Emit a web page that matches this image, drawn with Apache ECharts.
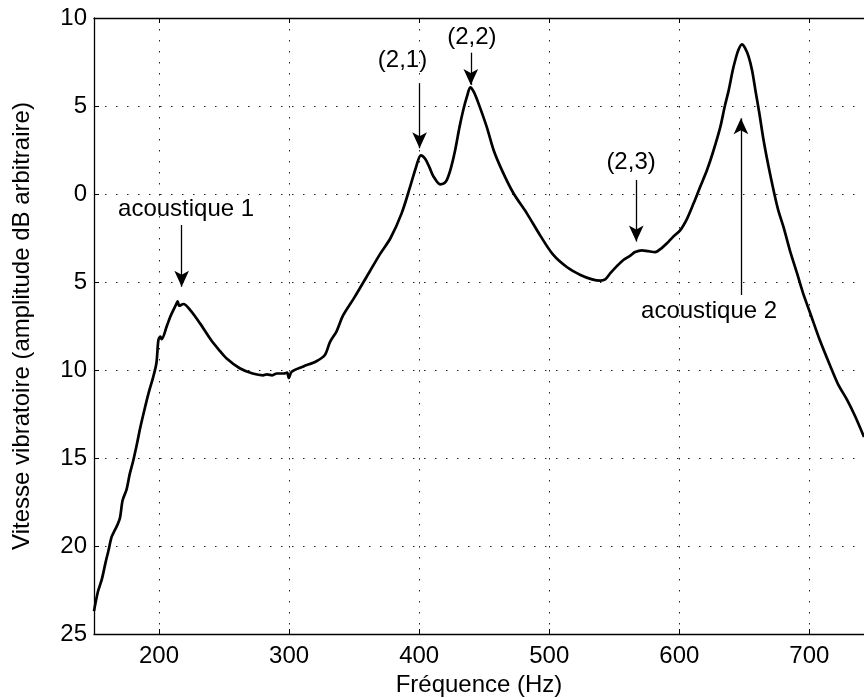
<!DOCTYPE html>
<html><head><meta charset="utf-8">
<script src="https://cdn.jsdelivr.net/npm/echarts@6/dist/echarts.min.js"></script>
<style>html,body{margin:0;padding:0;background:#fff}#c{width:864px;height:698px}</style>
</head><body><div id="c"></div>
<script>
// Frequency (Hz)
const freq = [150,153,156,159,161,163.5,166,168,170,172,175,177.5,180,183,185.5,188,192,195.5,198,199.5,201,202,206,208.5,211,213,214.3,215.6,218.7,224,231.5,240,246,252,262,272,280,283,287,290.5,296,298.5,299.7,302,311,321,327.5,331.5,336.5,341.5,350,362,370,378,386.5,393,397.7,401.3,404.6,408,411,416.2,419,421.3,424.5,427.7,431,434,437,439.3,442,445.6,452,457.2,463.6,472.5,482.8,493,503,513.5,524,533,539.2,543,547,552,557,562.3,566,571.3,576,581.5,586,590.5,595,600.8,606,611,616,621.3,626,631.5,635,638,641,643,645.5,648.2,650.5,653.3,656,658.5,661.5,664.8,668.5,672.5,676,680.2,685,690.5,695,700.8,708,716.2,722,729,735,742];
// Vitesse vibratoire (dB)
const level = [-23.7,-22.6,-21.9,-20.9,-20.3,-19.5,-19.1,-18.8,-18.4,-17.4,-16.8,-15.9,-15.2,-14.2,-13.3,-12.5,-11.3,-10.4,-9.6,-8.3,-8.1,-8.25,-7.5,-7.0,-6.6,-6.3,-6.1,-6.35,-6.25,-6.6,-7.35,-8.3,-8.85,-9.35,-9.9,-10.2,-10.3,-10.25,-10.3,-10.2,-10.2,-10.15,-10.45,-10.1,-9.8,-9.5,-9.15,-8.4,-7.8,-6.9,-5.9,-4.4,-3.4,-2.5,-1.1,0.4,1.55,2.2,2.0,1.5,1.0,0.55,0.6,0.8,1.5,2.5,3.8,4.8,5.6,6.06,5.8,5.15,3.8,2.5,1.36,0.04,-1.1,-2.35,-3.45,-4.15,-4.6,-4.85,-4.92,-4.85,-4.5,-4.1,-3.75,-3.5,-3.3,-3.2,-3.25,-3.3,-3.1,-2.8,-2.45,-2.05,-1.4,-0.53,0.4,1.36,2.4,3.8,5.0,5.9,7.0,7.6,8.2,8.5,8.3,7.8,7.0,5.9,4.6,3.05,1.6,0.2,-0.9,-1.9,-3.2,-4.5,-5.6,-6.8,-8.3,-9.8,-10.8,-11.7,-12.6,-13.8];
const xTicks = [200,300,400,500,600,700];
// Annotations
const annotTexts = ['acoustique 1','(2,1)','(2,2)','(2,3)','acoustique 2'];
const annotTextX = [220.8,387.2,440.5,562.9,622.9];
const annotTextY = [-0.85,7.6,8.9,1.79,-6.69];
const arrowX = [217.4,400.3,439.7,566.9,647.4];
const arrowFromY = [-1.76,6.3,8.03,0.8,-5.74];
const arrowToY = [-5.27,2.6,6.2,-2.7,4.3];

const FONT = 'Liberation Sans, Arial, Helvetica, sans-serif';
const FS = 24;
const chart = echarts.init(document.getElementById('c'), null, {renderer:'canvas'});
const dotted = {type:[1.5,9.5], color:'#222', width:1};

chart.setOption({
  animation:false,
  backgroundColor:'#fff',
  grid:{left:94, top:18, right:0, bottom:64, show:false, containLabel:false, outerBoundsMode:'none'},
  xAxis:[{
    type:'value', min:150, max:742, position:'bottom',
    axisLine:{show:true, onZero:false, lineStyle:{color:'#000', width:1.3}},
    axisTick:{show:true, inside:true, length:5, customValues:xTicks, lineStyle:{color:'#000', width:1}},
    axisLabel:{customValues:xTicks, fontSize:FS, color:'#000', fontFamily:FONT, margin:10},
    splitLine:{show:true, lineStyle:dotted},
    name:'Fréquence (Hz)', nameLocation:'middle', nameGap:38,
    nameTextStyle:{fontSize:FS, color:'#000', fontFamily:FONT}
  },{
    type:'value', min:150, max:742, position:'top',
    axisLine:{show:true, onZero:false, lineStyle:{color:'#000', width:1.3}},
    axisTick:{show:true, inside:true, length:5, customValues:xTicks, lineStyle:{color:'#000', width:1}},
    axisLabel:{show:false}, splitLine:{show:false}
  }],
  yAxis:{
    type:'value', min:-25, max:10, interval:5,
    axisLine:{show:true, onZero:false, lineStyle:{color:'#000', width:1.3}},
    axisTick:{show:true, inside:true, length:5, lineStyle:{color:'#000', width:1}},
    axisLabel:{fontSize:FS, color:'#000', fontFamily:FONT, margin:7, formatter:v=>String(Math.abs(v))},
    splitLine:{show:true, lineStyle:dotted},
    name:'Vitesse vibratoire (amplitude dB arbitraire)', nameLocation:'middle', nameGap:60,
    nameTextStyle:{fontSize:FS, color:'#000', fontFamily:FONT}
  },
  series:[{
    type:'line', xAxisIndex:0,
    data:freq.map((f,i)=>[f,level[i]]),
    showSymbol:false, smooth:0.3,
    lineStyle:{color:'#000', width:2.7},
    z:5,
    markLine:{
      silent:true, symbol:['none','arrow'], symbolSize:[11,16],
      lineStyle:{color:'#000', width:1.3, type:'solid'},
      itemStyle:{color:'#000'},
      label:{show:false},
      data:arrowX.map((x,i)=>[{coord:[x,arrowFromY[i]]},{coord:[x,arrowToY[i]]}])
    },
    markPoint:{
      silent:true, symbol:'rect', symbolSize:1,
      itemStyle:{color:'rgba(0,0,0,0)'},
      label:{show:true, position:'inside', color:'#000', fontSize:FS, fontFamily:FONT, formatter:p=>p.name},
      data:annotTexts.map((t,i)=>({name:t, coord:[annotTextX[i],annotTextY[i]]}))
    }
  }]
});
</script></body></html>
